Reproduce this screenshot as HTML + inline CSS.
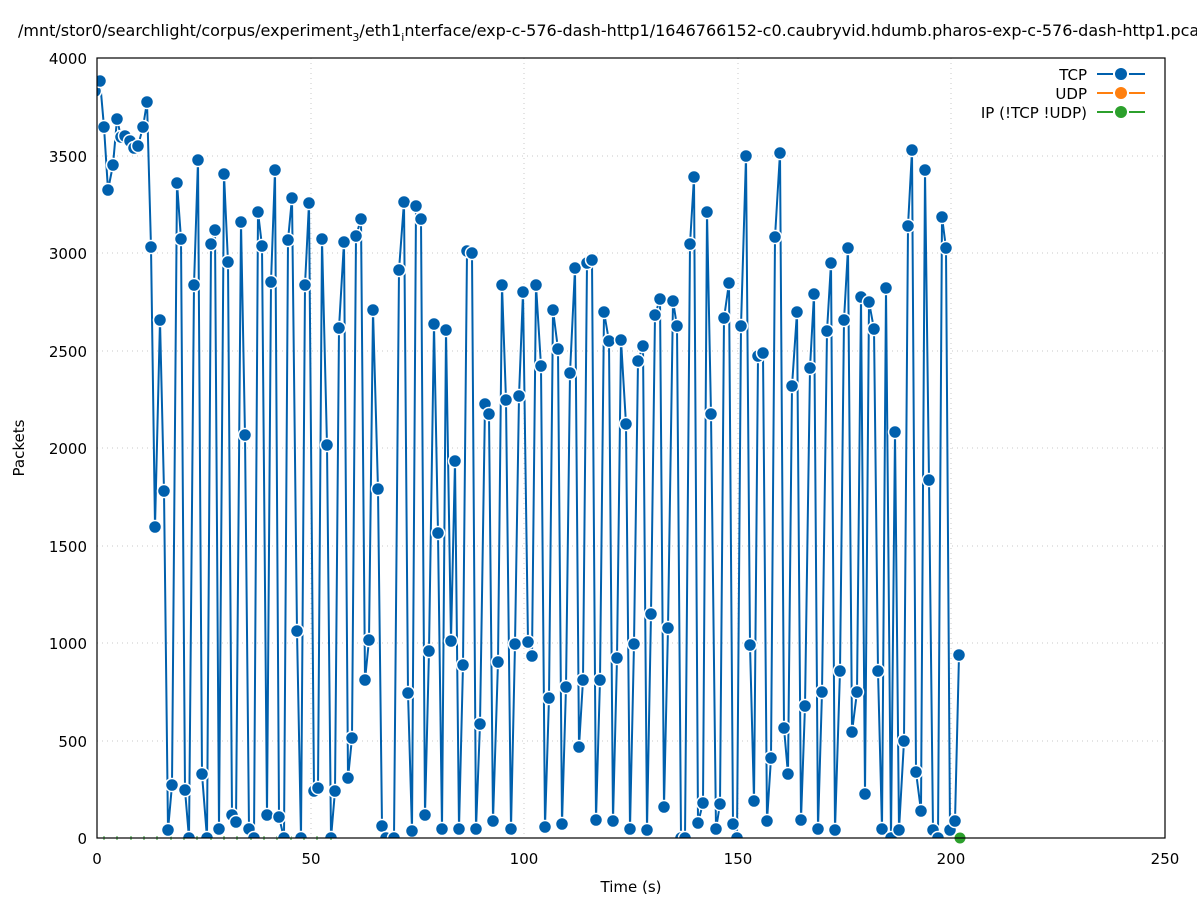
<!DOCTYPE html>
<html><head><meta charset="utf-8"><style>
body{margin:0;background:#fff}
svg{display:block;font-family:"DejaVu Sans","Liberation Sans",sans-serif}
</style></head><body>
<svg width="1197" height="900" viewBox="0 0 1197 900" xmlns="http://www.w3.org/2000/svg">
<defs>
<clipPath id="c"><rect x="97" y="50" width="1068" height="788"/></clipPath>
<marker id="m" markerUnits="userSpaceOnUse" markerWidth="18" markerHeight="18" refX="9" refY="9" overflow="visible">
<circle cx="9" cy="9" r="6.5" fill="#0060ad" stroke="#fff" stroke-width="1.5"/>
</marker>
</defs>
<rect width="1197" height="900" fill="#fff"/>
<text x="18" y="36" font-size="16">/mnt/stor0/searchlight/corpus/experiment<tspan font-size="11" dy="5">3</tspan><tspan dy="-5">/eth1</tspan><tspan font-size="11" dy="5">i</tspan><tspan dy="-5">nterface/exp-c-576-dash-http1/1646766152-c0.caubryvid.hdumb.pharos-exp-c-576-dash-http1.pcap</tspan></text>
<g stroke="#c8c8c8" stroke-dasharray="1,4" stroke-width="1">
<line x1="97" y1="741" x2="1165" y2="741"/><line x1="97" y1="643" x2="1165" y2="643"/><line x1="97" y1="546" x2="1165" y2="546"/><line x1="97" y1="448" x2="1165" y2="448"/><line x1="97" y1="351" x2="1165" y2="351"/><line x1="97" y1="253" x2="1165" y2="253"/><line x1="97" y1="156" x2="1165" y2="156"/><line x1="97" y1="58" x2="1165" y2="58"/>
<line x1="311" y1="58" x2="311" y2="838"/><line x1="524" y1="58" x2="524" y2="838"/><line x1="738" y1="58" x2="738" y2="838"/><line x1="951" y1="58" x2="951" y2="838"/><line x1="1165" y1="58" x2="1165" y2="838"/>
</g>
<g font-size="15" text-anchor="end">
<text x="87" y="844">0</text><text x="87" y="747">500</text><text x="87" y="649">1000</text><text x="87" y="552">1500</text><text x="87" y="454">2000</text><text x="87" y="357">2500</text><text x="87" y="259">3000</text><text x="87" y="162">3500</text><text x="87" y="64">4000</text>
</g>
<g font-size="15" text-anchor="middle">
<text x="97" y="864">0</text><text x="311" y="864">50</text><text x="524" y="864">100</text><text x="738" y="864">150</text><text x="951" y="864">200</text><text x="1165" y="864">250</text>
<text x="631" y="892">Time (s)</text>
<text transform="translate(24,448) rotate(-90)">Packets</text>
</g>
<g stroke="#2ca02c" stroke-width="1">
<line x1="104" y1="836" x2="104" y2="840"/><line x1="117" y1="836" x2="117" y2="840"/><line x1="131" y1="836" x2="131" y2="840"/><line x1="144" y1="836" x2="144" y2="840"/><line x1="157" y1="836" x2="157" y2="840"/><line x1="171" y1="836" x2="171" y2="840"/><line x1="184" y1="836" x2="184" y2="840"/><line x1="197" y1="836" x2="197" y2="840"/><line x1="211" y1="836" x2="211" y2="840"/><line x1="224" y1="836" x2="224" y2="840"/><line x1="237" y1="836" x2="237" y2="840"/><line x1="251" y1="836" x2="251" y2="840"/><line x1="264" y1="836" x2="264" y2="840"/><line x1="277" y1="836" x2="277" y2="840"/><line x1="291" y1="836" x2="291" y2="840"/><line x1="304" y1="836" x2="304" y2="840"/><line x1="317" y1="836" x2="317" y2="840"/><line x1="331" y1="836" x2="331" y2="840"/>
</g>
<g clip-path="url(#c)">
<polyline fill="none" stroke="#0060ad" stroke-width="2" stroke-linejoin="round" marker-start="url(#m)" marker-mid="url(#m)" marker-end="url(#m)" points="95,91 100,81 104,127 108,190 113,165 117,119 121,137 125,136 130,141 134,148 138,146 143,127 147,102 151,247 155,527 160,320 164,491 168,830 172,785 177,183 181,239 185,790 189,838 194,285 198,160 202,774 207,838 211,244 215,230 219,829 224,174 228,262 232,815 236,822 241,222 245,435 249,829 254,838 258,212 262,246 267,815 271,282 275,170 279,817 284,838 288,240 292,198 297,631 301,838 305,285 309,203 314,791 318,788 322,239 327,445 331,838 335,791 339,328 344,242 348,778 352,738 356,236 361,219 365,680 369,640 373,310 378,489 382,826 386,838 394,838 399,270 404,202 408,693 412,831 416,206 421,219 425,815 429,651 434,324 438,533 442,829 446,330 451,641 455,461 459,829 463,665 467,251 472,253 476,829 480,724 485,404 489,414 493,821 498,662 502,285 506,400 511,829 515,644 519,396 523,292 528,642 532,656 536,285 541,366 545,827 549,698 553,310 558,349 562,824 566,687 570,373 575,268 579,747 583,680 587,263 592,260 596,820 600,680 604,312 609,341 613,821 617,658 621,340 626,424 630,829 634,644 638,361 643,346 647,830 651,614 655,315 660,299 664,807 668,628 673,301 677,326 681,838 685,838 690,244 694,177 698,823 703,803 707,212 711,414 716,829 720,804 724,318 729,283 733,824 737,838 741,326 746,156 750,645 754,801 758,356 763,353 767,821 771,758 775,237 780,153 784,728 788,774 792,386 797,312 801,820 805,706 810,368 814,294 818,829 822,692 827,331 831,263 835,830 840,671 844,320 848,248 852,732 857,692 861,297 865,794 869,302 874,329 878,671 882,829 886,288 891,838 895,432 899,830 904,741 908,226 912,150 916,772 921,811 925,170 929,480 933,830 938,838 942,217 946,248 950,830 955,821 959,655"/>
</g>
<circle cx="960" cy="838" r="5.5" fill="#2ca02c"/>
<rect x="97" y="58" width="1068" height="780" fill="none" stroke="#000" stroke-width="1.2"/>
<g font-size="15" text-anchor="end">
<text x="1087" y="80">TCP</text><text x="1087" y="99">UDP</text><text x="1087" y="118">IP (!TCP  !UDP)</text>
</g>
<g stroke-width="2">
<line x1="1097" y1="74" x2="1113" y2="74" stroke="#0060ad"/><line x1="1129" y1="74" x2="1145" y2="74" stroke="#0060ad"/>
<line x1="1097" y1="93" x2="1113" y2="93" stroke="#ff7f0e"/><line x1="1129" y1="93" x2="1145" y2="93" stroke="#ff7f0e"/>
<line x1="1097" y1="112" x2="1113" y2="112" stroke="#2ca02c"/><line x1="1129" y1="112" x2="1145" y2="112" stroke="#2ca02c"/>
</g>
<circle cx="1121" cy="74" r="6" fill="#0060ad"/><circle cx="1121" cy="93" r="6" fill="#ff7f0e"/><circle cx="1121" cy="112" r="6" fill="#2ca02c"/>
</svg>
</body></html>
